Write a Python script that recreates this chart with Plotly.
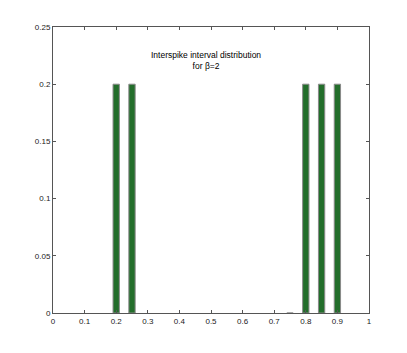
import plotly.graph_objects as go

# interspike intervals (bin centres) and their relative frequency
intervals = [0.2, 0.25, 0.75, 0.8, 0.85, 0.9]
freq = [0.2, 0.2, 0.0, 0.2, 0.2, 0.2]

x_ticks = [0, 0.1, 0.2, 0.3, 0.4, 0.5, 0.6, 0.7, 0.8, 0.9, 1]
x_labels = ["0", "0.1", "0.2", "0.3", "0.4", "0.5", "0.6", "0.7", "0.8", "0.9", "1"]
y_ticks = [0, 0.05, 0.1, 0.15, 0.2, 0.25]
y_labels = ["0", "0.05", "0.1", "0.15", "0.2", "0.25"]

fig = go.Figure()
fig.add_trace(go.Bar(
    x=intervals, y=freq, width=0.02,
    marker=dict(color="#236e2b", line=dict(color="#8a8a8a", width=1)),
))

fig.add_annotation(
    x=0.485, y=0.221, xref="x", yref="y",
    text="Interspike interval distribution<br>for \u03b2=2",
    showarrow=False, font=dict(size=8.5, color="black"),
)

axis_style = dict(
    showline=True, linecolor="#555", linewidth=1, mirror="ticks",
    ticks="inside", ticklen=3, tickcolor="#555",
    showgrid=False, zeroline=False,
    tickfont=dict(size=8, color="#222"),
)
fig.update_xaxes(range=[0, 1], tickvals=x_ticks, ticktext=x_labels, **axis_style)
fig.update_yaxes(range=[0, 0.25], tickvals=y_ticks, ticktext=y_labels, **axis_style)

# page body adds 8px, so margins are shifted to keep the plot area in place
fig.update_layout(
    width=407, height=353,
    margin=dict(l=45, r=46, t=19, b=48),
    plot_bgcolor="white", paper_bgcolor="white",
    font=dict(family="Liberation Sans, Arial, sans-serif"),
    showlegend=False,
)
fig.write_html("out.html")
